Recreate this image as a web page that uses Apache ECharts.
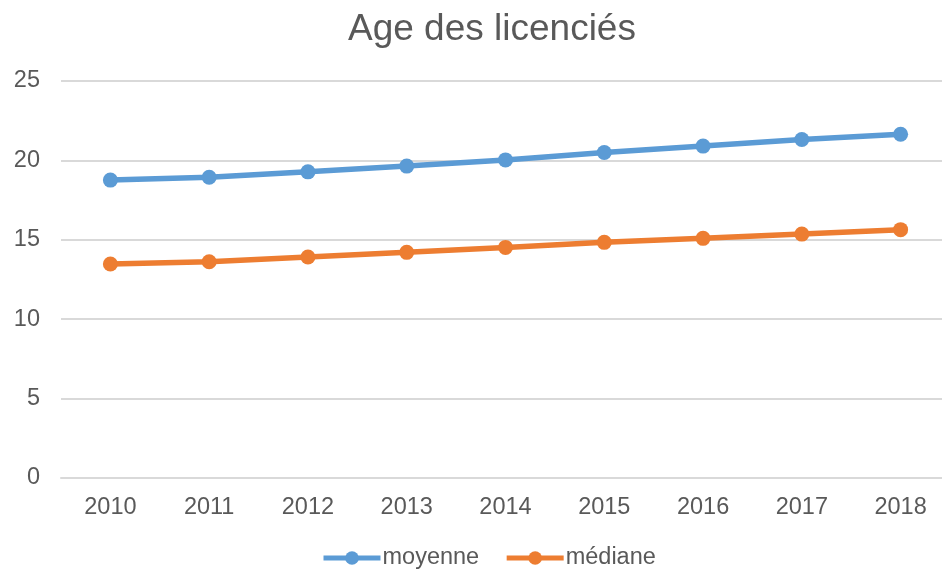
<!DOCTYPE html>
<html><head><meta charset="utf-8">
<script src="https://cdn.jsdelivr.net/npm/echarts@6/dist/echarts.min.js"></script>
<style>html,body{margin:0;padding:0;background:#fff}#c{width:942px;height:569px}</style>
</head><body><div id="c"></div>
<script>
var categories = ['2010','2011','2012','2013','2014','2015','2016','2017','2018'];
var moyenne = [18.76, 18.94, 19.28, 19.64, 20.03, 20.5, 20.9, 21.32, 21.65];
var mediane = [13.48, 13.62, 13.92, 14.21, 14.52, 14.84, 15.09, 15.36, 15.64];
var yTicks = [0, 5, 10, 15, 20, 25];

var chart = echarts.init(document.getElementById('c'));
var font = 'Liberation Sans, Arial, sans-serif';
chart.setOption({
  animation: false,
  title: { text: 'Age des licenciés', left: 343, top: 6,
    textStyle: { fontFamily: font, fontSize: 37, fontWeight: 'normal', color: '#595959' } },
  legend: { bottom: -6, left: 316, itemWidth: 57, itemHeight: 17, itemGap: 25,
    lineStyle: { width: 5 },
    textStyle: { fontFamily: font, fontSize: 23.5, color: '#595959', padding: [0, 0, 0, -3] },
    data: ['moyenne', 'médiane'] },
  grid: { left: 61, top: 81, width: 889, height: 397, outerBoundsMode: 'none', containLabel: false },
  xAxis: { type: 'category', data: categories, boundaryGap: true,
    axisLine: { lineStyle: { color: '#d9d9d9', width: 2 } }, axisTick: { show: false },
    axisLabel: { fontFamily: font, fontSize: 23.5, color: '#595959', margin: 18 } },
  yAxis: { type: 'value', min: yTicks[0], max: yTicks[yTicks.length-1], interval: 5,
    axisLine: { show: false }, axisTick: { show: false },
    splitLine: { lineStyle: { color: '#d9d9d9', width: 2 } },
    axisLabel: { fontFamily: font, fontSize: 23.5, color: '#595959', margin: 21 } },
  series: [
    { name: 'moyenne', type: 'line', data: moyenne, symbol: 'circle', symbolSize: 15,
      lineStyle: { width: 5.5, color: '#5B9BD5' }, itemStyle: { color: '#5B9BD5' } },
    { name: 'médiane', type: 'line', data: mediane, symbol: 'circle', symbolSize: 15,
      lineStyle: { width: 5.5, color: '#ED7D31' }, itemStyle: { color: '#ED7D31' } }
  ]
});
</script></body></html>
